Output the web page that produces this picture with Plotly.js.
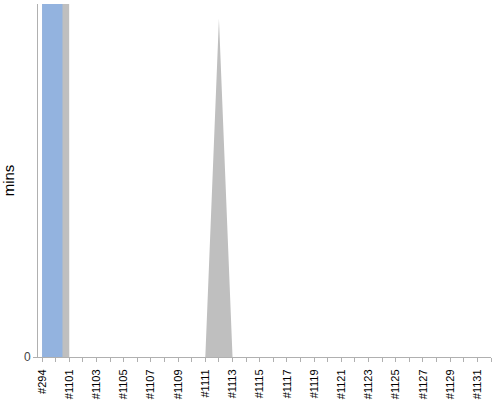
<!DOCTYPE html>
<html>
<head>
<meta charset="utf-8">
<script src="https://cdn.plot.ly/plotly-3.0.1.min.js"></script>
<style>
  html, body { margin: 0; padding: 0; background: #fff; }
  #plot { width: 500px; height: 400px; }
</style>
</head>
<body>
<div id="plot"></div>
<script>
// builds, in order
var builds = ["#294", "#1100", "#1101", "#1102", "#1103", "#1104", "#1105", "#1106",
  "#1107", "#1108", "#1109", "#1110", "#1111", "#1112", "#1113", "#1114", "#1115",
  "#1116", "#1117", "#1118", "#1119", "#1120", "#1121", "#1122", "#1123", "#1124",
  "#1125", "#1126", "#1127", "#1128", "#1129", "#1130", "#1131", "#1132"];

// minutes per build (first two run far off the top of the chart)
var blueMins = [2400, 2400, 0, 0, 0, 0, 0, 0, 0, 0, 0, 0, 0, 0, 0, 0, 0,
  0, 0, 0, 0, 0, 0, 0, 0, 0, 0, 0, 0, 0, 0, 0, 0, 0];
var grayMins = [2400, 2400, 0, 0, 0, 0, 0, 0, 0, 0, 0, 0, 0, 23, 0, 0, 0,
  0, 0, 0, 0, 0, 0, 0, 0, 0, 0, 0, 0, 0, 0, 0, 0, 0];

// only every other build gets a label
var tickText = builds.map((b, i) => i % 2 === 0 ? b : "");

var gray = {
  x: builds,
  y: grayMins,
  type: "scatter",
  mode: "lines",
  fill: "tozeroy",
  line: {width: 0, color: "#bfbfbf"},
  fillcolor: "#bfbfbf",
  hoverinfo: "skip"
};

var blue = {
  x: builds,
  y: blueMins,
  type: "scatter",
  mode: "lines",
  fill: "tozeroy",
  line: {width: 0, color: "#93b3df", shape: "hvh"},
  fillcolor: "#93b3df",
  hoverinfo: "skip"
};

var layout = {
  width: 500,
  height: 400,
  margin: {l: 38, r: 9, t: 4, b: 43},
  paper_bgcolor: "#fff",
  plot_bgcolor: "#fff",
  showlegend: false,
  font: {family: "Liberation Sans, Arial, sans-serif", size: 11, color: "#000"},
  xaxis: {
    type: "category",
    range: [-0.3, 33],
    tickmode: "array",
    tickvals: builds,
    ticktext: tickText,
    tickangle: -90,
    ticks: "outside",
    ticklen: 4,
    tickcolor: "#b0b0b0",
    ticklabelstandoff: 3,
    showline: true,
    linecolor: "#b0b0b0",
    showgrid: false,
    zeroline: false,
    tickfont: {size: 11, color: "#000"}
  },
  yaxis: {
    range: [0, 24],
    tickmode: "array",
    tickvals: [0],
    ticks: "outside",
    ticklen: 4,
    tickcolor: "#b0b0b0",
    showline: true,
    linecolor: "#b0b0b0",
    showgrid: false,
    zeroline: false,
    tickfont: {size: 12, color: "#444"},
    title: {text: "mins", font: {size: 15, color: "#000"}, standoff: 8}
  }
};

Plotly.newPlot("plot", [gray, blue], layout, {staticPlot: true});
</script>
</body>
</html>
